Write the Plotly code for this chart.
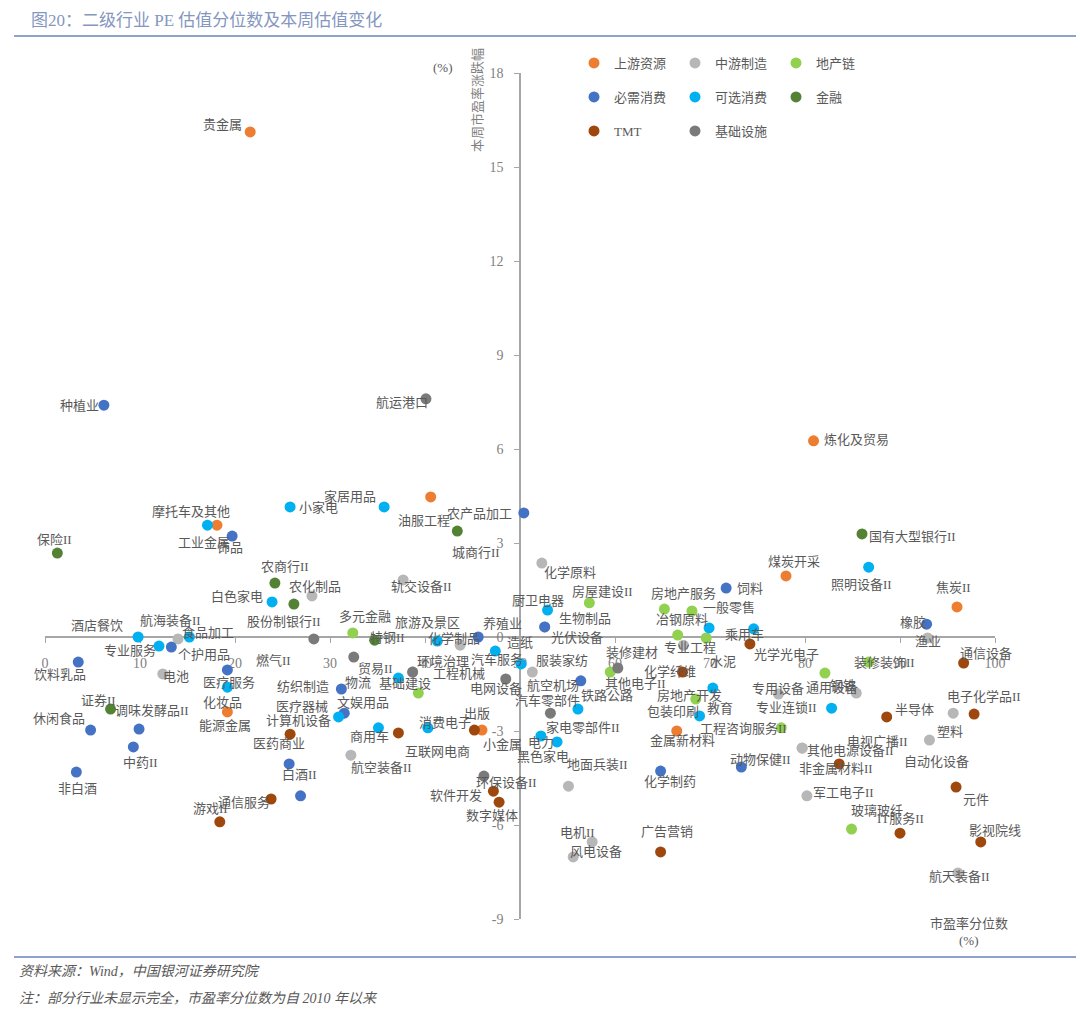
import plotly.graph_objects as go

# ---------------- data: x = 市盈率分位数 (%), y = 本周市盈率涨跌幅 (%) ----------------
groups = ["上游资源", "中游制造", "地产链", "必需消费", "可选消费", "金融", "TMT", "基础设施"]

up_names = ["贵金属", "炼化及贸易", "油服工程", "工业金属", "煤炭开采", "焦炭II", "能源金属", "小金属", "金属新材料"]
up_pe = [21.6, 80.9, 40.6, 18.1, 78.0, 96.0, 19.2, 46.0, 66.5]
up_chg = [16.12, 6.26, 4.47, 3.57, 1.95, 0.96, -2.39, -2.97, -3.00]

mid_names = ["化学原料", "农化制品", "轨交设备II", "航海装备II", "电池", "化学制品", "工程机械", "服装家纺",
             "光伏设备", "航空装备II", "地面兵装II", "电机II", "风电设备", "专业工程", "专用设备", "通用设备",
             "塑料", "自动化设备", "其他电源设备II", "非金属材料II", "军工电子II", "航天装备II", "渔业"]
mid_pe = [52.3, 28.1, 37.7, 14.0, 12.4, 43.7, 38.7, 51.3, 52.6, 32.2, 55.1, 57.6, 55.6, 67.2, 77.2, 85.4,
          95.6, 93.1, 79.7, 79.7, 80.2, 96.1, 92.9]
mid_chg = [2.36, 1.31, 1.82, -0.06, -1.18, -0.26, -1.12, -1.12, 0.32, -3.77, -4.76, -6.54, -7.02, -0.26,
           -1.82, -1.79, -2.43, -3.29, -3.54, -3.55, -5.07, -7.53, -0.03]

re_names = ["房屋建设II", "房地产服务", "冶钢原料", "装修建材", "水泥", "其他电子II", "房地产开发", "工程咨询服务II",
            "钢铁", "装修装饰II", "玻璃玻纤", "多元金融", "基础建设"]
re_pe = [57.3, 65.2, 68.1, 66.6, 69.6, 59.5, 68.5, 77.5, 82.1, 86.7, 84.9, 32.4, 39.3]
re_chg = [1.09, 0.89, 0.83, 0.06, -0.03, -1.12, -1.98, -2.90, -1.15, -0.80, -6.13, 0.13, -1.79]

ess_names = ["种植业", "农产品加工", "饰品", "生物制品", "饲料", "养殖业", "纺织制造", "医疗器械", "医药商业", "白酒II",
             "航空机场", "个护用品", "饮料乳品", "医疗服务", "休闲食品", "调味发酵品II", "中药II", "非白酒", "橡胶",
             "化学制药", "动物保健II"]
ess_pe = [6.2, 50.4, 19.7, 52.6, 71.7, 45.6, 31.2, 31.5, 25.7, 26.9, 56.4, 13.3, 3.5, 19.2, 4.8, 9.9, 9.3,
          3.3, 92.8, 64.8, 73.3]
ess_chg = [7.40, 3.96, 3.22, 0.32, 1.56, 0.00, -1.66, -2.43, -4.05, -5.07, -1.40, -0.32, -0.80, -1.05, -2.97,
           -2.94, -3.51, -4.31, 0.41, -4.28, -4.15]

opt_names = ["小家电", "家居用品", "摩托车及其他", "白色家电", "厨卫电器", "一般零售", "乘用车", "照明设备II", "酒店餐饮",
             "食品加工", "专业服务", "化妆品", "旅游及景区", "物流", "汽车服务", "造纸", "文娱用品", "商用车", "消费电子",
             "电力", "黑色家电", "家电零部件II", "教育", "包装印刷", "专业连锁II"]
opt_pe = [25.8, 35.7, 17.1, 23.9, 52.9, 69.9, 74.6, 86.7, 9.8, 15.2, 12.0, 19.2, 41.3, 37.2, 47.4, 50.1,
          30.9, 35.1, 40.3, 52.2, 53.9, 56.1, 70.3, 68.9, 82.8]
opt_chg = [4.15, 4.15, 3.57, 1.12, 0.86, 0.29, 0.26, 2.23, 0.00, 0.00, -0.29, -1.60, -0.13, -1.31, -0.45,
           -0.86, -2.55, -2.90, -2.90, -3.16, -3.35, -2.30, -1.63, -2.52, -2.27]

fin_names = ["保险II", "城商行II", "农商行II", "股份制银行II", "国有大型银行II", "特钢II", "证券II"]
fin_pe = [1.3, 43.4, 24.2, 26.2, 86.0, 34.7, 6.9]
fin_chg = [2.68, 3.38, 1.72, 1.05, 3.29, -0.10, -2.30]

tmt_names = ["计算机设备", "互联网电商", "出版", "软件开发", "数字媒体", "通信服务", "游戏II", "化学纤维", "光学光电子",
             "通信设备", "半导体", "电子化学品II", "电视广播II", "元件", "IT服务II", "影视院线", "广告营销"]
tmt_pe = [25.8, 37.2, 45.2, 47.2, 47.8, 23.8, 18.4, 67.1, 74.2, 96.7, 88.6, 97.8, 83.6, 95.9, 90.0, 98.5, 64.8]
tmt_chg = [-3.10, -3.06, -2.97, -4.92, -5.27, -5.17, -5.90, -1.12, -0.22, -0.83, -2.55, -2.46, -4.05, -4.79,
           -6.26, -6.54, -6.86]

inf_names = ["航运港口", "燃气II", "贸易II", "环境治理", "电网设备", "汽车零部件", "环保设备II", "铁路公路"]
inf_pe = [40.1, 28.3, 32.5, 38.7, 48.5, 53.2, 46.2, 60.3]
inf_chg = [7.60, -0.06, -0.64, -1.12, -1.34, -2.43, -4.44, -0.99]

x_ticks = [0, 10, 20, 30, 40, 50, 60, 70, 80, 90, 100]
y_ticks = [-9, -6, -3, 0, 3, 6, 9, 12, 15, 18]

# ---------------- styles ----------------
COLORS = ["#ED7D31", "#B7B7B7", "#92D050", "#4472C4", "#00B0F0", "#548235", "#9E480E", "#7A7A7A"]
LEGENDS = ["legend", "legend", "legend", "legend2", "legend2", "legend2", "legend3", "legend3"]

# label offset (dx, dy) in pixels from marker centre to label centre (dy positive = down)
LABEL_OFFSET = {
    "贵金属": (-28, -7), "炼化及贸易": (43, -1), "油服工程": (-7, 24), "工业金属": (-13, 17), "煤炭开采": (8, -14),
    "焦炭II": (-4, -19), "能源金属": (-2, 14), "小金属": (20, 14), "金属新材料": (6, 9),
    "化学原料": (28, 9), "农化制品": (3, -9), "轨交设备II": (18, 7), "航海装备II": (-8, -18), "电池": (13, 3),
    "化学制品": (-6, -7), "工程机械": (46, 1), "服装家纺": (30, -12), "光伏设备": (32, 11),
    "航空装备II": (31, 12), "地面兵装II": (29, -22), "电机II": (-15, -9), "风电设备": (23, -5),
    "专业工程": (7, 2), "专用设备": (0, -6), "通用设备": (-24, -6), "塑料": (-3, 18), "自动化设备": (7, 21),
    "其他电源设备II": (48, 3), "非金属材料II": (34, 20), "军工电子II": (37, -3), "航天装备II": (2, 4),
    "渔业": (0, 4),
    "房屋建设II": (13, -11), "房地产服务": (19, -16), "冶钢原料": (-10, 9), "装修建材": (-46, 17),
    "水泥": (17, 24), "其他电子II": (25, 11), "房地产开发": (-6, -4), "工程咨询服务II": (-38, 1),
    "钢铁": (18, 12), "装修装饰II": (16, 0), "玻璃玻纤": (25, -19), "多元金融": (12, -16), "基础建设": (-13, -10),
    "种植业": (-24, 0), "农产品加工": (-44, 1), "饰品": (-2, 11), "生物制品": (40, -8), "饲料": (24, 0),
    "养殖业": (24, -14), "纺织制造": (-38, -3), "医疗器械": (-42, -7), "医药商业": (-10, -20), "白酒II": (-1, -21),
    "航空机场": (-28, 5), "个护用品": (33, 7), "饮料乳品": (-18, 12), "医疗服务": (2, 13), "休闲食品": (-32, -12),
    "调味发酵品II": (13, -19), "中药II": (7, 16), "非白酒": (1, 16), "橡胶": (-14, -2), "化学制药": (9, 10),
    "动物保健II": (19, -8),
    "小家电": (28, 1), "家居用品": (-34, -10), "摩托车及其他": (-16, -14), "白色家电": (-35, -5),
    "厨卫电器": (-10, -10), "一般零售": (20, -20), "乘用车": (-9, 6), "照明设备II": (-7, 17),
    "酒店餐饮": (-41, -12), "食品加工": (19, -5), "专业服务": (-29, 4), "化妆品": (-5, 15),
    "旅游及景区": (-10, -19), "物流": (-40, 4), "汽车服务": (2, 8), "造纸": (-1, -21), "文娱用品": (24, -14),
    "商用车": (-9, 9), "消费电子": (17, -5), "电力": (0, 6), "黑色家电": (-14, 15), "家电零部件II": (5, 18),
    "教育": (7, 20), "包装印刷": (-27, -4), "专业连锁II": (-45, -1),
    "保险II": (-3, -14), "城商行II": (19, 21), "农商行II": (10, -17), "股份制银行II": (-10, 17),
    "国有大型银行II": (50, 3), "特钢II": (13, -3), "证券II": (-12, -9),
    "计算机设备": (8, -14), "互联网电商": (39, 19), "出版": (3, -17), "软件开发": (-37, 4), "数字媒体": (-7, 13),
    "通信服务": (-27, 4), "游戏II": (-9, -13), "化学纤维": (-12, -1), "光学光电子": (37, 11), "通信设备": (22, -10),
    "半导体": (28, -7), "电子化学品II": (10, -18), "电视广播II": (38, -22), "元件": (20, 12), "IT服务II": (0, -15),
    "影视院线": (14, -11), "广告营销": (6, -20),
    "航运港口": (-24, 4), "燃气II": (-40, 22), "贸易II": (22, 11), "环境治理": (30, -11), "电网设备": (-10, 10),
    "汽车零部件": (-3, -13), "环保设备II": (23, 6), "铁路公路": (-11, 27),
}

FONT_FAMILY = "Liberation Serif, Noto Sans CJK SC, serif"
TEXT_GRAY = "#595959"
AXIS_GRAY = "#A6A6A6"
RULE_BLUE = "#8EA2CB"

series = [
    (up_names, up_pe, up_chg),
    (mid_names, mid_pe, mid_chg),
    (re_names, re_pe, re_chg),
    (ess_names, ess_pe, ess_chg),
    (opt_names, opt_pe, opt_chg),
    (fin_names, fin_pe, fin_chg),
    (tmt_names, tmt_pe, tmt_chg),
    (inf_names, inf_pe, inf_chg),
]

fig = go.Figure()
for g, (names, xs, ys), col, lg in zip(groups, series, COLORS, LEGENDS):
    fig.add_trace(go.Scatter(
        x=xs, y=ys, mode="markers", name=g, text=names, legend=lg,
        marker=dict(size=11, color=col, line=dict(width=0)),
        cliponaxis=False, hovertemplate="%{text}<br>%{x}, %{y}<extra></extra>",
    ))

for names, xs, ys in series:
    for n, x, y in zip(names, xs, ys):
        dx, dy = LABEL_OFFSET.get(n, (0, -15))
        fig.add_annotation(x=x, y=y, text=n, showarrow=False, xshift=dx, yshift=-dy,
                           xanchor="center", yanchor="middle",
                           font=dict(family=FONT_FAMILY, size=13, color=TEXT_GRAY))

# plot area: x 45..995 px, y 73..919 px
L, R, T, B = 45, 85, 73, 98
W, H = 1080, 1017
PW, PH = W - L - R, H - T - B


def px(xp):
    return (xp - L) / PW


def py(yp):
    return (H - B - yp) / PH


def note(xp, yp, text, size=13, color=TEXT_GRAY, xanchor="center", **kw):
    fig.add_annotation(xref="paper", yref="paper", x=px(xp), y=py(yp), text=text, showarrow=False,
                       xanchor=xanchor, yanchor="middle",
                       font=dict(family=FONT_FAMILY, size=size, color=color), **kw)


# titles / notes
note(29, 20, "图20：二级行业 PE 估值分位数及本周估值变化", size=17, color="#8497C0", xanchor="left")
note(443, 67, "(%)")
note(477, 100, "本周市盈率涨跌幅", color="#7F7F7F", textangle=-90)
note(969, 923, "市盈率分位数")
note(969, 940, "(%)")
note(17, 972, "<i>资料来源：Wind，中国银河证券研究院</i>", size=14, xanchor="left")
note(17, 999, "<i>注：部分行业未显示完全，市盈率分位数为自 2010 年以来</i>", size=14, xanchor="left")

for yline in (36, 957):
    fig.add_shape(type="line", xref="paper", yref="paper", x0=px(14), x1=px(1076), y0=py(yline), y1=py(yline),
                  line=dict(color=RULE_BLUE, width=2))

legend_common = dict(orientation="h", xanchor="left", yanchor="middle", entrywidth=56, itemwidth=30,
                     bgcolor="rgba(0,0,0,0)", font=dict(family=FONT_FAMILY, size=13, color=TEXT_GRAY),
                     traceorder="normal")

fig.update_layout(
    width=W, height=H,
    margin=dict(l=L, r=R, t=T, b=B, autoexpand=False),
    paper_bgcolor="white", plot_bgcolor="white",
    showlegend=True,
    legend=dict(x=px(574), y=py(63), **legend_common),
    legend2=dict(x=px(574), y=py(97), **legend_common),
    legend3=dict(x=px(574), y=py(131), **legend_common),
    xaxis=dict(range=[0, 100], anchor="free", position=1 / 3, showgrid=False, zeroline=False,
               showline=True, linecolor=AXIS_GRAY, linewidth=1.5, ticks="outside", ticklen=5,
               tickcolor=AXIS_GRAY, tickvals=x_ticks, ticktext=[str(v) for v in x_ticks],
               tickfont=dict(family=FONT_FAMILY, size=14, color="#7F7F7F"), ticklabelstandoff=8,
               layer="below traces", fixedrange=True),
    yaxis=dict(range=[-9, 18], anchor="free", position=0.5, showgrid=False, zeroline=False,
               showline=True, linecolor=AXIS_GRAY, linewidth=1.5, ticks="outside", ticklen=5,
               tickcolor=AXIS_GRAY, tickvals=y_ticks, ticktext=[str(v) for v in y_ticks],
               tickfont=dict(family=FONT_FAMILY, size=14, color="#7F7F7F"), ticklabelstandoff=8,
               layer="below traces", fixedrange=True),
)

fig.write_html("out.html", config={"displayModeBar": False},
               post_script="document.body.style.margin='0px';document.body.style.overflow='hidden';")
